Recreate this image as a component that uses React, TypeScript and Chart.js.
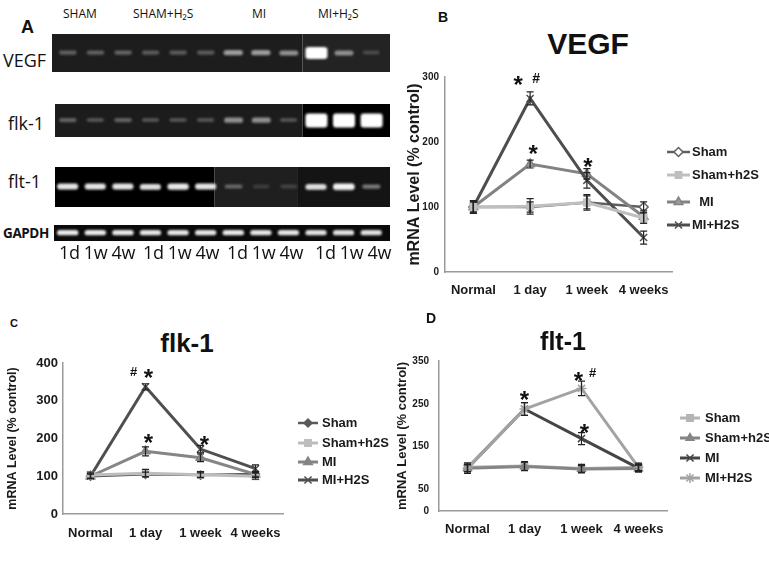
import React, { useEffect, useRef } from 'react';
import { Chart, registerables } from 'chart.js';
import { drawPoint } from 'chart.js/helpers';

Chart.register(...registerables);

// ---------------- Data ----------------
const timePoints = ['Normal', '1 day', '1 week', '4 weeks'];
const yAxisTitle = 'mRNA Level (% control)';

// Panel B – VEGF
const vegfSham = [100, 100, 107, 100];
const vegfShamErr = [8, 8, 10, 8];
const vegfShamH2S = [100, 101, 107, 83];
const vegfShamH2SErr = [10, 12, 12, 8];
const vegfMI = [100, 166, 151, 85];
const vegfMIErr = [8, 6, 8, 10];
const vegfMIH2S = [100, 267, 141, 53];
const vegfMIH2SErr = [10, 10, 12, 10];
const vegfTicks = [0, 100, 200, 300];

// Panel C – flk-1
const flk1Sham = [100, 105, 103, 106];
const flk1ShamErr = [6, 6, 6, 6];
const flk1ShamH2S = [103, 108, 104, 100];
const flk1ShamH2SErr = [8, 10, 8, 8];
const flk1MI = [100, 166, 149, 105];
const flk1MIErr = [6, 12, 10, 8];
const flk1MIH2S = [100, 337, 172, 120];
const flk1MIH2SErr = [6, 8, 10, 10];
const flk1Ticks = [0, 100, 200, 300, 400];

// Panel D – flt-1
const flt1Sham = [102, 105, 99, 102];
const flt1ShamErr = [10, 10, 10, 10];
const flt1ShamH2S = [100, 104, 98, 99];
const flt1ShamH2SErr = [12, 10, 8, 8];
const flt1MI = [100, 238, 169, 100];
const flt1MIErr = [8, 15, 14, 8];
const flt1MIH2S = [100, 238, 286, 102];
const flt1MIH2SErr = [8, 15, 17, 8];
const flt1Ticks = [0, 50, 150, 250, 350];

const legendNames = ['Sham', 'Sham+h2S', 'MI', 'MI+H2S'];
const legendNamesB = ['Sham', 'Sham+h2S', '  MI', 'MI+H2S'];

// significance marks: category index, value, text
const vegfMarks = [
  { i: 1, v: 297, text: '*' },
  { i: 1, v: 299, text: '#' },
  { i: 1, v: 192, text: '*' },
  { i: 2, v: 172, text: '*' },
];
const flk1Marks = [
  { i: 1, v: 377, text: '#' },
  { i: 1, v: 376, text: '*' },
  { i: 1, v: 204, text: '*' },
  { i: 2, v: 201, text: '*' },
];
const flt1Marks = [
  { i: 1, v: 275, text: '*' },
  { i: 2, v: 319, text: '*' },
  { i: 2, v: 324, text: '#' },
  { i: 2, v: 196, text: '*' },
];

// Panel A – gel
const gelGroups = ['SHAM', 'SHAM+H₂S', 'MI', 'MI+H₂S'];
const laneLabels = ['1d', '1w', '4w'];
const gelRowNames = ['VEGF', 'flk-1', 'flt-1', 'GAPDH'];
const vegfBands = [0.28, 0.28, 0.3, 0.26, 0.26, 0.26, 0.55, 0.55, 0.5, 1.0, 0.5, 0.18];
const flk1Bands = [0.28, 0.22, 0.28, 0.22, 0.22, 0.22, 0.5, 0.5, 0.22, 1.0, 1.0, 1.0];
const flt1Bands = [0.88, 0.88, 0.88, 0.85, 0.9, 0.88, 0.32, 0.12, 0.15, 0.85, 0.95, 0.4];
const gapdhBands = [0.9, 0.9, 0.9, 0.88, 0.88, 0.88, 0.9, 0.88, 0.88, 0.86, 0.86, 0.86];

// ---------------- Styling helpers ----------------
const FONT = '"Liberation Sans", Arial, sans-serif';
const GEL_FONT = '"Open Sans", "Noto Sans", sans-serif';
const TEXT = '#1a1a1a';

const errorBarPlugin = {
  id: 'errorBars',
  afterDatasetsDraw(chart: any, _a: any, opts: any) {
    const { ctx } = chart;
    const y = chart.scales.y;
    chart.data.datasets.forEach((ds: any, di: number) => {
      const errs = ds.errors as number[] | undefined;
      if (!errs) return;
      const meta = chart.getDatasetMeta(di);
      meta.data.forEach((pt: any, i: number) => {
        const v = ds.data[i];
        const e = errs[i];
        const yt = y.getPixelForValue(v + e);
        const yb = y.getPixelForValue(v - e);
        ctx.save();
        ctx.strokeStyle = opts.color;
        ctx.lineWidth = opts.width;
        ctx.beginPath();
        ctx.moveTo(pt.x, yt);
        ctx.lineTo(pt.x, yb);
        ctx.moveTo(pt.x - opts.cap, yt);
        ctx.lineTo(pt.x + opts.cap, yt);
        ctx.moveTo(pt.x - opts.cap, yb);
        ctx.lineTo(pt.x + opts.cap, yb);
        ctx.stroke();
        ctx.restore();
      });
    });
  },
};

const marksPlugin = {
  id: 'marks',
  afterDraw(chart: any, _a: any, opts: any) {
    const { ctx } = chart;
    const xs = chart.scales.x;
    const ys = chart.scales.y;
    (opts.items || []).forEach((m: any, k: number) => {
      const dx = (opts.dx && opts.dx[k]) || 0;
      const isStar = m.text === '*';
      const size = isStar ? opts.starSize : opts.hashSize;
      const px = xs.getPixelForValue(m.i) + dx;
      const py = ys.getPixelForValue(m.v);
      ctx.save();
      ctx.fillStyle = '#111';
      ctx.font = `bold ${size}px ${FONT}`;
      ctx.textAlign = 'center';
      ctx.textBaseline = 'alphabetic';
      ctx.fillText(m.text, px, py + (isStar ? 0.6 : 0.36) * size);
      ctx.restore();
    });
  },
};

const lineLegendPlugin = {
  id: 'lineLegend',
  afterDraw(chart: any, _a: any, opts: any) {
    const { ctx } = chart;
    chart.data.datasets.forEach((ds: any, i: number) => {
      const y = opts.ys[i];
      ctx.save();
      ctx.strokeStyle = ds.borderColor;
      ctx.lineWidth = ds.borderWidth;
      ctx.beginPath();
      ctx.moveTo(opts.x0, y);
      ctx.lineTo(opts.x1, y);
      ctx.stroke();
      ctx.fillStyle = ds.pointBackgroundColor;
      ctx.strokeStyle = ds.pointBorderColor;
      ctx.lineWidth = ds.pointBorderWidth;
      drawPoint(
        ctx,
        { pointStyle: ds.pointStyle, radius: ds.pointRadius, rotation: 0, borderWidth: ds.pointBorderWidth } as any,
        (opts.x0 + opts.x1) / 2,
        y
      );
      ctx.fillStyle = TEXT;
      ctx.font = `bold ${opts.font}px ${FONT}`;
      ctx.textAlign = 'left';
      ctx.textBaseline = 'middle';
      ctx.fillText(opts.labels[i], opts.tx, y);
      ctx.restore();
    });
  },
};

type Series = {
  name: string;
  values: number[];
  errors: number[];
  color: string;
  fill: string;
  marker: string;
  radius: number;
  width: number;
  order: number;
};

type Panel = {
  series: Series[];
  max: number;
  ticks: number[];
  yWidth: number;
  xHeight: number;
  padTop: number;
  padRight: number;
  tickFont: number;
  tickPad: number;
  xFont: number;
  xPad: number;
  titleFont: number;
  titlePad: number;
  legend: { x0: number; x1: number; tx: number; ys: number[]; font: number; labels: string[] };
  marks: { i: number; v: number; text: string }[];
  markDx: number[];
  starSize: number;
  hashSize: number;
};

function buildLineConfig(p: Panel): any {
  return {
    type: 'line',
    data: {
      labels: timePoints,
      datasets: p.series.map((s) => ({
        label: s.name,
        data: s.values,
        errors: s.errors,
        order: s.order,
        borderColor: s.color,
        backgroundColor: s.fill,
        borderWidth: s.width,
        pointStyle: s.marker,
        pointRadius: s.radius,
        pointHoverRadius: s.radius,
        pointBackgroundColor: s.fill,
        pointBorderColor: s.color,
        pointBorderWidth: 1.5,
        tension: 0,
        fill: false,
        clip: false,
      })),
    },
    options: {
      animation: false,
      responsive: false,
      maintainAspectRatio: false,
      events: [],
      layout: { autoPadding: false, padding: { top: p.padTop, right: p.padRight, left: 0, bottom: 0 } },
      plugins: {
        legend: { display: false },
        tooltip: { enabled: false },
        errorBars: { color: '#222', width: 1.2, cap: 3.5 },
        marks: { items: p.marks, dx: p.markDx, starSize: p.starSize, hashSize: p.hashSize },
        lineLegend: p.legend,
      },
      scales: {
        x: {
          type: 'category',
          offset: true,
          grid: { display: false, drawTicks: false },
          border: { display: true, color: '#9a9a9a', width: 1.5 },
          ticks: {
            color: TEXT,
            padding: p.xPad,
            maxRotation: 0,
            autoSkip: false,
            font: { family: FONT, size: p.xFont, weight: 'bold' },
          },
          afterFit: (s: any) => {
            s.height = p.xHeight;
          },
        },
        y: {
          type: 'linear',
          min: 0,
          max: p.max,
          grid: { display: false, drawTicks: false },
          border: { display: true, color: '#9a9a9a', width: 1.5 },
          ticks: {
            color: TEXT,
            padding: p.tickPad,
            font: { family: FONT, size: p.tickFont, weight: 'bold' },
          },
          afterBuildTicks: (s: any) => {
            s.ticks = p.ticks.map((v) => ({ value: v }));
          },
          afterFit: (s: any) => {
            s.width = p.yWidth;
          },
          title: {
            display: true,
            text: yAxisTitle,
            color: TEXT,
            font: { family: FONT, size: p.titleFont, weight: 'bold' },
            padding: { top: p.titlePad, bottom: 0 },
          },
        },
      },
    },
    plugins: [errorBarPlugin, marksPlugin, lineLegendPlugin],
  };
}

// ---- gel helpers ----
type Section = { from: number; to: number; color: string };

function makeBand(intensity: number, w: number, h: number): HTMLCanvasElement {
  const pad = 4;
  const c = document.createElement('canvas');
  c.width = Math.ceil(w + pad * 2);
  c.height = Math.ceil(h + pad * 2);
  const ctx = c.getContext('2d')!;
  const g = Math.round(35 + 220 * intensity);
  ctx.filter = 'blur(1px)';
  ctx.fillStyle = `rgb(${g},${g},${g})`;
  ctx.beginPath();
  const r = Math.min(h / 2, 3);
  if ((ctx as any).roundRect) (ctx as any).roundRect(pad, pad, w, h, r);
  else ctx.rect(pad, pad, w, h);
  ctx.fill();
  return c;
}

const sectionPlugin = {
  id: 'sections',
  beforeDatasetsDraw(chart: any, _a: any, opts: any) {
    const { ctx } = chart;
    const xs = chart.scales.x;
    (opts.items || []).forEach((s: Section) => {
      const a = Math.max(0, xs.getPixelForValue(s.from));
      const b = Math.min(chart.width, xs.getPixelForValue(s.to));
      ctx.save();
      ctx.fillStyle = s.color;
      ctx.fillRect(a, 0, b - a, chart.height);
      ctx.restore();
    });
  },
};

// lane placement (layout)
const LANE0 = 68;
const LANE_STEP = 27.6;

function buildGelConfig(bands: number[], sections: Section[], left: number, width: number, baseH: number, grow: number): any {
  const canvases = bands.map((v) => makeBand(v, 16 + 6 * v, baseH + grow * v * v * v));
  const min = 1 - (LANE0 - left) / LANE_STEP;
  const max = min + width / LANE_STEP;
  return {
    type: 'scatter',
    data: {
      datasets: [
        {
          data: bands.map((_, i) => ({ x: i + 1, y: 0 })),
          pointStyle: canvases,
          pointRadius: 6,
          clip: false,
        },
      ],
    },
    options: {
      animation: false,
      responsive: false,
      maintainAspectRatio: false,
      events: [],
      layout: { autoPadding: false, padding: 0 },
      plugins: { legend: { display: false }, tooltip: { enabled: false }, sections: { items: sections } },
      scales: {
        x: { type: 'linear', display: false, min, max },
        y: { type: 'linear', display: false, min: -1, max: 1 },
      },
    },
    plugins: [sectionPlugin],
  };
}

// ---------------- Components ----------------
const ChartCanvas: React.FC<{ make: () => any; left: number; top: number; width: number; height: number }> = ({
  make,
  left,
  top,
  width,
  height,
}) => {
  const ref = useRef<HTMLCanvasElement>(null);
  useEffect(() => {
    const chart = new Chart(ref.current as HTMLCanvasElement, make());
    return () => chart.destroy();
  }, []);
  return (
    <canvas
      ref={ref}
      width={width}
      height={height}
      style={{ position: 'absolute', left, top, width, height, display: 'block' }}
    />
  );
};

const Txt: React.FC<{ left: number; top: number; size: number; bold?: boolean; family?: string; children: React.ReactNode; width?: number; center?: boolean; ls?: number }> = ({
  left,
  top,
  size,
  bold,
  family,
  children,
  width,
  center,
  ls,
}) => (
  <div
    style={{
      position: 'absolute',
      left,
      top,
      width,
      fontSize: size,
      lineHeight: 1,
      fontWeight: bold ? 'bold' : 'normal',
      fontFamily: family || FONT,
      color: '#111',
      whiteSpace: 'pre',
      textAlign: center ? 'center' : 'left',
      letterSpacing: ls,
    }}
  >
    {children}
  </div>
);

const panelB: Panel = {
  series: [
    { name: legendNames[0], values: vegfSham, errors: vegfShamErr, color: '#606060', fill: '#ffffff', marker: 'rectRot', radius: 4.5, width: 2.5, order: 4 },
    { name: legendNames[1], values: vegfShamH2S, errors: vegfShamH2SErr, color: '#bfbfbf', fill: '#bfbfbf', marker: 'rect', radius: 4.5, width: 3, order: 1 },
    { name: legendNames[2], values: vegfMI, errors: vegfMIErr, color: '#828282', fill: '#9c9c9c', marker: 'triangle', radius: 5, width: 3, order: 3 },
    { name: legendNames[3], values: vegfMIH2S, errors: vegfMIH2SErr, color: '#4e4e4e', fill: '#4e4e4e', marker: 'crossRot', radius: 5, width: 3, order: 2 },
  ],
  max: 300,
  ticks: vegfTicks,
  yWidth: 53,
  xHeight: 40,
  padTop: 15,
  padRight: 97,
  tickFont: 10,
  tickPad: 6,
  xFont: 13,
  xPad: 11,
  titleFont: 16,
  titlePad: 13,
  legend: { x0: 275, x1: 298, tx: 300, ys: [90, 113, 140, 163], font: 13, labels: legendNamesB },
  marks: vegfMarks,
  markDx: [-12, 6, 3, 1],
  starSize: 24,
  hashSize: 14,
};

const panelC: Panel = {
  series: [
    { name: legendNames[0], values: flk1Sham, errors: flk1ShamErr, color: '#5a5a5a', fill: '#5a5a5a', marker: 'rectRot', radius: 4, width: 2.5, order: 4 },
    { name: legendNames[1], values: flk1ShamH2S, errors: flk1ShamH2SErr, color: '#bdbdbd', fill: '#bdbdbd', marker: 'rect', radius: 4.5, width: 3, order: 1 },
    { name: legendNames[2], values: flk1MI, errors: flk1MIErr, color: '#858585', fill: '#858585', marker: 'triangle', radius: 5, width: 3, order: 3 },
    { name: legendNames[3], values: flk1MIH2S, errors: flk1MIH2SErr, color: '#4f4f4f', fill: '#4f4f4f', marker: 'crossRot', radius: 5, width: 3, order: 2 },
  ],
  max: 400,
  ticks: flk1Ticks,
  yWidth: 63,
  xHeight: 36,
  padTop: 18,
  padRight: 107,
  tickFont: 13,
  tickPad: 5,
  xFont: 13,
  xPad: 12,
  titleFont: 12.5,
  titlePad: 5.5,
  legend: { x0: 298, x1: 318, tx: 322, ys: [78, 98, 117, 135], font: 13, labels: legendNames },
  marks: flk1Marks,
  markDx: [-12, 3, 3, 4],
  starSize: 24,
  hashSize: 13,
};

const panelD: Panel = {
  series: [
    { name: legendNames[0], values: flt1Sham, errors: flt1ShamErr, color: '#b4b4b4', fill: '#b4b4b4', marker: 'rect', radius: 4.5, width: 3, order: 4 },
    { name: legendNames[1], values: flt1ShamH2S, errors: flt1ShamH2SErr, color: '#858585', fill: '#858585', marker: 'triangle', radius: 4.5, width: 3, order: 3 },
    { name: legendNames[2], values: flt1MI, errors: flt1MIErr, color: '#454545', fill: '#454545', marker: 'crossRot', radius: 5, width: 3, order: 2 },
    { name: legendNames[3], values: flt1MIH2S, errors: flt1MIH2SErr, color: '#a3a3a3', fill: '#a3a3a3', marker: 'star', radius: 5, width: 3, order: 1 },
  ],
  max: 350,
  ticks: flt1Ticks,
  yWidth: 47,
  xHeight: 39,
  padTop: 16,
  padRight: 102,
  tickFont: 10,
  tickPad: 10,
  xFont: 13,
  xPad: 11,
  titleFont: 13,
  titlePad: 2.2,
  legend: { x0: 288, x1: 308, tx: 313, ys: [73, 93, 113, 133], font: 13, labels: legendNames },
  marks: flt1Marks,
  markDx: [0, -3, 11, 3],
  starSize: 24,
  hashSize: 13,
};

const vegfSections: Section[] = [
  { from: -2, to: 9.5, color: '#1d1d1d' },
  { from: 9.5, to: 14, color: '#232323' },
];
const flk1Sections: Section[] = [
  { from: -2, to: 9.5, color: '#1c1c1c' },
  { from: 9.5, to: 14, color: '#000000' },
];
const flt1Sections: Section[] = [
  { from: -2, to: 6.3, color: '#000000' },
  { from: 6.3, to: 9.3, color: '#1f1f1f' },
  { from: 9.3, to: 14, color: '#141414' },
];
const gapdhSections: Section[] = [{ from: -2, to: 14, color: '#0a0a0a' }];

export default function App() {
  return (
    <div style={{ position: 'absolute', left: 0, top: 0, width: 769, height: 577, background: '#fff', overflow: 'hidden' }}>
      {/* Panel A */}
      <Txt left={21} top={18} size={18} bold>A</Txt>
      <Txt left={63} top={8} size={12} family={GEL_FONT}>{gelGroups[0]}</Txt>
      <Txt left={133} top={8} size={12} family={GEL_FONT}>{gelGroups[1]}</Txt>
      <Txt left={252} top={8} size={12} family={GEL_FONT}>{gelGroups[2]}</Txt>
      <Txt left={318} top={8} size={12} family={GEL_FONT}>{gelGroups[3]}</Txt>

      <Txt left={3} top={51} size={18} family={GEL_FONT}>{gelRowNames[0]}</Txt>
      <Txt left={8} top={114} size={18} family={GEL_FONT}>{gelRowNames[1]}</Txt>
      <Txt left={8} top={172} size={18} family={GEL_FONT}>{gelRowNames[2]}</Txt>
      <Txt left={3} top={227} size={13.5} bold family={GEL_FONT} ls={-0.4}>{gelRowNames[3]}</Txt>

      <ChartCanvas left={52} top={34} width={338} height={38} make={() => buildGelConfig(vegfBands, vegfSections, 52, 338, 4, 8)} />
      <ChartCanvas left={55} top={104} width={335} height={33} make={() => buildGelConfig(flk1Bands, flk1Sections, 55, 335, 4, 10)} />
      <ChartCanvas left={55} top={167} width={335} height={40} make={() => buildGelConfig(flt1Bands, flt1Sections, 55, 335, 4, 3)} />
      <ChartCanvas left={54} top={225} width={336} height={16} make={() => buildGelConfig(gapdhBands, gapdhSections, 54, 336, 5, 0.5)} />

      {[59, 143, 227, 315].map((l, k) => (
        <Txt key={k} left={l} top={243} size={18} family={GEL_FONT} ls={-0.4}>
          {laneLabels.join(' ')}
        </Txt>
      ))}

      {/* Panel B */}
      <Txt left={438} top={10} size={14} bold>B</Txt>
      <Txt left={488} top={29} size={30} bold width={200} center>VEGF</Txt>
      <ChartCanvas left={392} top={62} width={377} height={250} make={() => buildLineConfig(panelB)} />

      {/* Panel C */}
      <Txt left={10} top={318} size={11} bold>C</Txt>
      <Txt left={87} top={330} size={26} bold width={200} center>flk-1</Txt>
      <ChartCanvas left={0} top={345} width={390} height={205} make={() => buildLineConfig(panelC)} />

      {/* Panel D */}
      <Txt left={426} top={311} size={14} bold>D</Txt>
      <Txt left={463} top={329} size={25} bold width={200} center>flt-1</Txt>
      <ChartCanvas left={392} top={345} width={377} height={205} make={() => buildLineConfig(panelD)} />
    </div>
  );
}
